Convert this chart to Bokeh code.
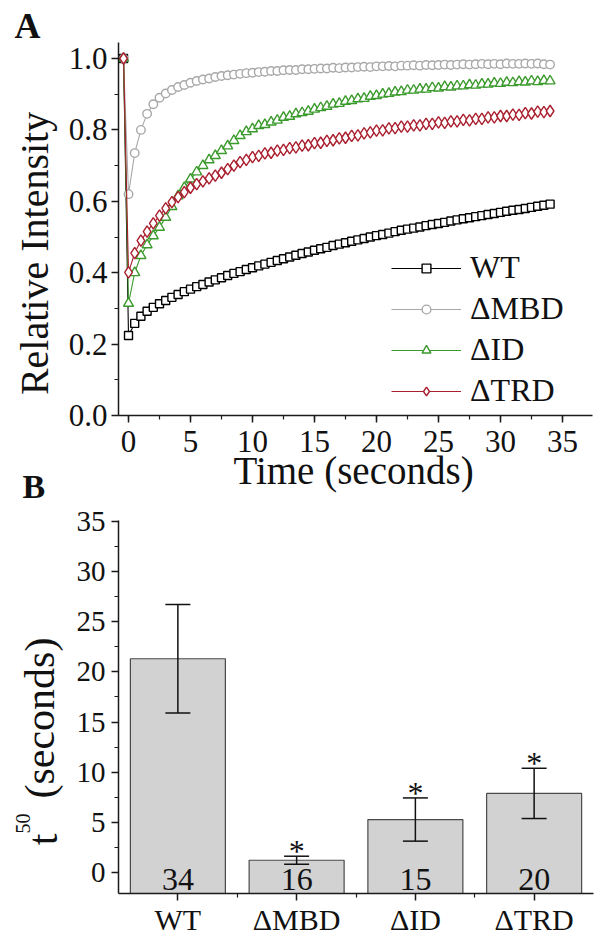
from bokeh.plotting import figure
from bokeh.models import (ColumnDataSource, Legend, LegendItem, Label, FixedTicker,
                          SingleIntervalTicker, PrintfTickFormatter, Range1d, Whisker, TeeHead)
from bokeh.layouts import column
from bokeh.embed import file_html
from bokeh.resources import INLINE
from bokeh.core.properties import value
import math

FONT = "Liberation Serif"

# ---------------- Panel A data: FRAP recovery ----------------
time_s = [-0.4, 0.0, 0.5, 1.0, 1.5, 2.0, 2.5, 3.0, 3.5, 4.0, 4.5, 5.0, 5.5, 6.0, 6.5, 7.0, 7.5,
          8.0, 8.5, 9.0, 9.5, 10.0, 10.5, 11.0, 11.5, 12.0, 12.5, 13.0, 13.5, 14.0, 14.5, 15.0,
          15.5, 16.0, 16.5, 17.0, 17.5, 18.0, 18.5, 19.0, 19.5, 20.0, 20.5, 21.0, 21.5, 22.0,
          22.5, 23.0, 23.5, 24.0, 24.5, 25.0, 25.5, 26.0, 26.5, 27.0, 27.5, 28.0, 28.5, 29.0,
          29.5, 30.0, 30.5, 31.0, 31.5, 32.0, 32.5, 33.0, 33.5, 34.0]

wt = [1.0, 0.224, 0.258, 0.278, 0.292, 0.303, 0.313, 0.322, 0.331, 0.339, 0.347, 0.354, 0.361,
      0.367, 0.374, 0.380, 0.386, 0.392, 0.398, 0.403, 0.409, 0.414, 0.419, 0.424, 0.429, 0.434,
      0.439, 0.444, 0.449, 0.454, 0.458, 0.463, 0.467, 0.471, 0.476, 0.480, 0.484, 0.488, 0.492,
      0.496, 0.500, 0.504, 0.507, 0.511, 0.515, 0.519, 0.522, 0.525, 0.528, 0.532, 0.535, 0.538,
      0.541, 0.545, 0.548, 0.551, 0.554, 0.557, 0.560, 0.563, 0.566, 0.569, 0.572, 0.575, 0.577,
      0.580, 0.583, 0.586, 0.589, 0.592]

d_mbd = [1.0, 0.620, 0.735, 0.800, 0.845, 0.872, 0.890, 0.902, 0.912, 0.920, 0.926, 0.932, 0.937,
         0.941, 0.944, 0.948, 0.951, 0.953, 0.955, 0.957, 0.959, 0.960, 0.962, 0.963, 0.965, 0.965,
         0.967, 0.968, 0.968, 0.970, 0.970, 0.971, 0.972, 0.972, 0.974, 0.973, 0.975, 0.975, 0.976,
         0.977, 0.976, 0.978, 0.978, 0.979, 0.978, 0.980, 0.980, 0.981, 0.980, 0.982, 0.981, 0.982,
         0.983, 0.982, 0.983, 0.984, 0.983, 0.984, 0.985, 0.984, 0.985, 0.984, 0.986, 0.985, 0.985,
         0.986, 0.985, 0.986, 0.984, 0.983]

d_id = [1.0, 0.314, 0.400, 0.448, 0.478, 0.503, 0.527, 0.555, 0.585, 0.615, 0.638, 0.662, 0.682,
        0.700, 0.716, 0.728, 0.742, 0.755, 0.770, 0.784, 0.795, 0.803, 0.812, 0.815, 0.822, 0.827,
        0.835, 0.838, 0.845, 0.848, 0.852, 0.858, 0.862, 0.866, 0.872, 0.874, 0.880, 0.882, 0.887,
        0.888, 0.894, 0.896, 0.900, 0.902, 0.906, 0.907, 0.911, 0.911, 0.914, 0.914, 0.918, 0.917,
        0.921, 0.920, 0.923, 0.923, 0.926, 0.925, 0.928, 0.928, 0.931, 0.930, 0.933, 0.932, 0.935,
        0.934, 0.937, 0.935, 0.938, 0.937]

d_trd = [1.0, 0.401, 0.455, 0.490, 0.515, 0.538, 0.560, 0.580, 0.598, 0.612, 0.626, 0.638, 0.648,
         0.656, 0.664, 0.672, 0.680, 0.690, 0.700, 0.710, 0.716, 0.724, 0.727, 0.734, 0.736, 0.742,
         0.744, 0.749, 0.751, 0.756, 0.757, 0.763, 0.764, 0.769, 0.771, 0.776, 0.778, 0.783, 0.785,
         0.790, 0.793, 0.798, 0.799, 0.804, 0.805, 0.809, 0.809, 0.813, 0.813, 0.817, 0.817, 0.821,
         0.820, 0.824, 0.824, 0.828, 0.827, 0.831, 0.831, 0.835, 0.835, 0.839, 0.839, 0.843, 0.842,
         0.847, 0.846, 0.851, 0.850, 0.853]

series_names = ["WT", "ΔMBD", "ΔID", "ΔTRD"]
series_values = [wt, d_mbd, d_id, d_trd]
series_colors = ["#000000", "#a8a8a8", "#3b9a2c", "#a91f2e"]
series_markers = ["square", "circle", "triangle", "diamond"]
series_sizes = [8, 8.5, 10, 11.5]

# ---------------- Panel B data: t50 ----------------
categories = ["WT", "ΔMBD", "ΔID", "ΔTRD"]
t50_mean = [21.3, 1.25, 5.3, 7.9]
t50_err = [5.4, 0.4, 2.15, 2.5]
n_cells = [34, 16, 15, 20]
significant = [False, True, True, True]


def style_axis(ax, tick_size):
    ax.axis_line_width = 1.5
    ax.axis_line_color = "#1a1a1a"
    ax.major_tick_line_width = 1.5
    ax.major_tick_line_color = "#1a1a1a"
    ax.minor_tick_line_width = 1.2
    ax.minor_tick_line_color = "#1a1a1a"
    ax.major_tick_in = 0
    ax.major_tick_out = 7
    ax.minor_tick_in = 0
    ax.minor_tick_out = 4
    ax.major_label_text_font = FONT
    ax.major_label_text_font_size = tick_size
    ax.major_label_text_color = "#111111"


def text_label(fig, x, y, text, size, angle=0.0, align="left", style="normal"):
    fig.add_layout(Label(x=x, y=y, text=text, angle=angle, text_align=align,
                         text_baseline="alphabetic", text_font=FONT, text_font_size=size,
                         text_font_style=style, text_color="#111111"))


# ================= Panel A =================
# the frame covers the whole canvas; axes are pinned with fixed_location + bounds
xa_lo, xa_hi = -0.806, 37.42
ya_lo, ya_hi = 0.0, 1.045
pa = figure(width=594, height=505, min_border=0,
            x_range=Range1d(-10.323, 37.581), y_range=Range1d(-0.2521, 1.1625),
            output_backend="svg", toolbar_location=None, outline_line_color=None)
pa.grid.visible = False
style_axis(pa.xaxis[0], "31px")
style_axis(pa.yaxis[0], "31px")
pa.xaxis.ticker = SingleIntervalTicker(interval=5, num_minor_ticks=2)
pa.yaxis.ticker = SingleIntervalTicker(interval=0.2, num_minor_ticks=2)
pa.yaxis.formatter = PrintfTickFormatter(format="%.1f")
pa.xaxis.fixed_location = ya_lo
pa.xaxis.bounds = (xa_lo, xa_hi)
pa.yaxis.fixed_location = xa_lo
pa.yaxis.bounds = (ya_lo, ya_hi)
pa.xaxis.major_label_standoff = 8
pa.yaxis.major_label_standoff = 4

items = []
for name, vals, col, mk, sz in zip(series_names, series_values, series_colors,
                                   series_markers, series_sizes):
    src = ColumnDataSource(dict(t=time_s, v=vals))
    ln = pa.line("t", "v", source=src, line_color=col, line_width=1.1)
    sc = pa.scatter("t", "v", source=src, marker=mk, size=sz, line_color=col,
                    fill_color="white", line_width=1.4)
    items.append(LegendItem(label=name, renderers=[ln, sc]))

legend = Legend(items=items, location=(391, 96), orientation="vertical",
                glyph_width=70, glyph_height=22, label_height=35, spacing=4,
                padding=0, margin=0, border_line_color=None, background_fill_alpha=0,
                label_text_font=FONT, label_text_font_size="32px", label_standoff=9,
                label_text_baseline="middle", label_text_color="#111111")
pa.add_layout(legend)

# axis titles and panel letters (data coordinates of panel A)
text_label(pa, 18.15, -0.154, "Time (seconds)", "39px", align="center")
text_label(pa, -7.58, 0.454, "Relative Intensity", "40px", angle=math.pi / 2, align="center")
text_label(pa, -9.2, 1.092, "A", "36px", style="bold")
text_label(pa, -8.55, -0.199, "B", "34px", style="bold")

# ================= Panel B =================
yb_min, yb_max = -2.06, 35.05
pb = figure(width=594, height=430, min_border=0,
            x_range=Range1d(-0.9937, 4.0084), y_range=Range1d(-6.239, 36.547),
            output_backend="svg", toolbar_location=None, outline_line_color=None)
pb.grid.visible = False
style_axis(pb.xaxis[0], "30px")
style_axis(pb.yaxis[0], "29px")

xpos = [i + 0.5 for i in range(len(categories))]
bounds = [i + 1 for i in range(len(categories) - 1)]
pb.xaxis.ticker = FixedTicker(ticks=xpos, minor_ticks=bounds)
pb.xaxis.major_label_overrides = {x: c for x, c in zip(xpos, categories)}
pb.xaxis.major_label_standoff = 2
pb.xaxis.fixed_location = yb_min
pb.xaxis.bounds = (0, len(categories))
pb.yaxis.ticker = SingleIntervalTicker(interval=5, num_minor_ticks=2)
pb.yaxis.major_label_standoff = 6
pb.yaxis.fixed_location = 0
pb.yaxis.bounds = (yb_min, yb_max)

bsrc = ColumnDataSource(dict(
    x=xpos, top=t50_mean,
    upper=[m + e for m, e in zip(t50_mean, t50_err)],
    lower=[m - e for m, e in zip(t50_mean, t50_err)],
    n=[str(n) for n in n_cells],
    star=["*" if s else "" for s in significant],
))
pb.vbar(x="x", top="top", bottom=yb_min, width=0.8, source=bsrc,
        fill_color="#d2d2d2", line_color="#4a4a4a", line_width=1.2)
wh = Whisker(source=bsrc, base="x", upper="upper", lower="lower", dimension="height",
             line_width=1.5, line_color="#111111", level="overlay",
             upper_head=TeeHead(size=25, line_width=1.5, line_color="#111111"),
             lower_head=TeeHead(size=25, line_width=1.5, line_color="#111111"))
pb.add_layout(wh)
pb.text(x="x", y=-1.66, text="n", source=bsrc, text_align="center", y_offset=-10,
        text_baseline="alphabetic", text_font=value(FONT), text_font_size="32px",
        text_color="#111111")
pb.text(x="x", y="upper", text="star", source=bsrc, text_align="center",
        text_baseline="alphabetic", y_offset=-5, text_font=value(FONT), text_font_size="32px",
        text_color="#111111")

# y-axis title with superscript: t^50 (seconds)
text_label(pb, -0.640, 2.73, "t", "42px", angle=math.pi / 2)
text_label(pb, -0.805, 3.92, "50", "20px", angle=math.pi / 2)
text_label(pb, -0.665, 7.39, "(seconds)", "42px", angle=math.pi / 2)

layout = column(pa, pb, spacing=0)
open("out.html", "w").write(file_html(layout, INLINE))
